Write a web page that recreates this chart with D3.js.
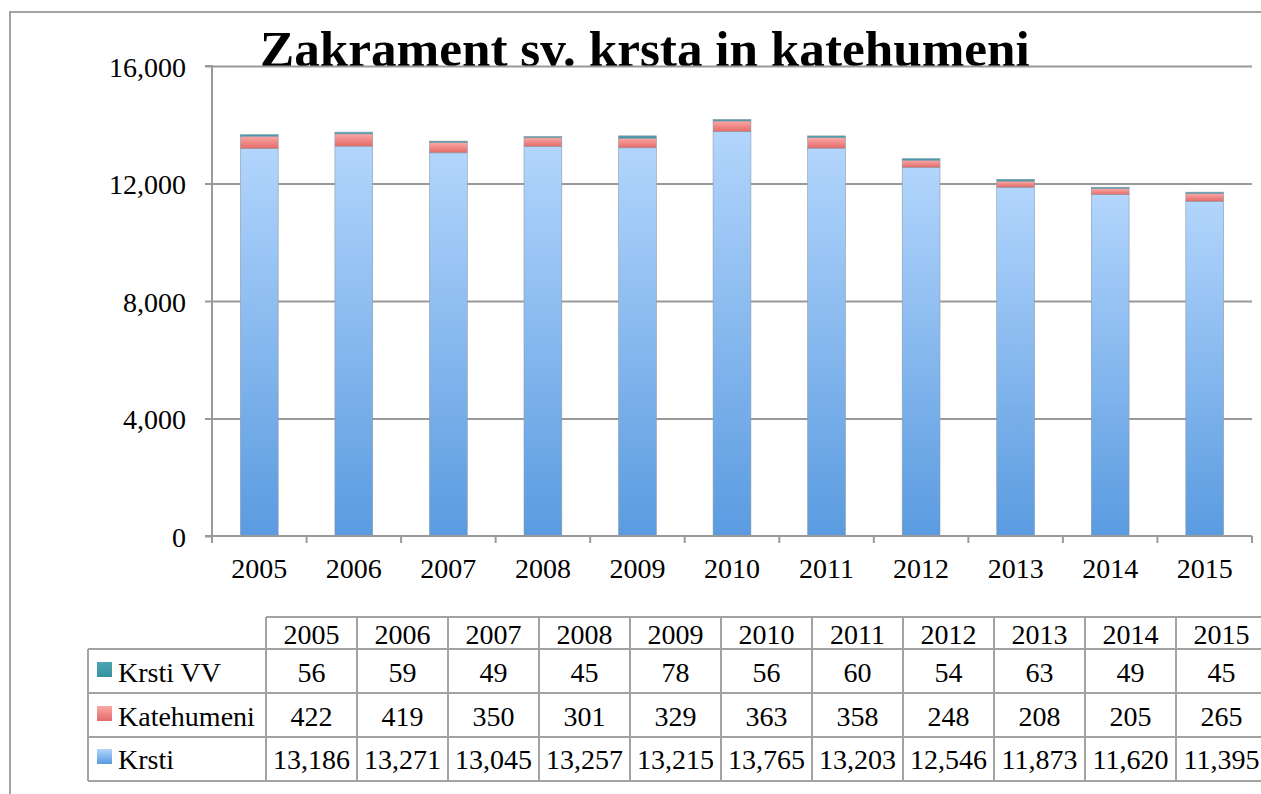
<!DOCTYPE html>
<html><head><meta charset="utf-8">
<script src="https://cdn.jsdelivr.net/npm/d3@7"></script>
<style>
html,body{margin:0;padding:0;background:#fff;overflow:hidden}
text{font-family:"Liberation Serif","DejaVu Serif",serif;fill:#000}
</style></head>
<body>
<svg id="c" width="1261" height="794"></svg>
<script>
const title = "Zakrament sv. krsta in katehumeni";
const years = ["2005","2006","2007","2008","2009","2010","2011","2012","2013","2014","2015"];
const krstiVV = [56,59,49,45,78,56,60,54,63,49,45];
const katehumeni = [422,419,350,301,329,363,358,248,208,205,265];
const krsti = [13186,13271,13045,13257,13215,13765,13203,12546,11873,11620,11395];
const yTicks = [0,4000,8000,12000,16000];
const seriesNames = ["Krsti VV","Katehumeni","Krsti"];

(function(){
const FS = 28;
const svg = d3.select("#c");
const defs = svg.append("defs");
function grad(id, c1, c2){
  const g = defs.append("linearGradient").attr("id",id).attr("x1",0).attr("y1",0).attr("x2",0).attr("y2",1);
  g.append("stop").attr("offset","0%").attr("stop-color",c1);
  g.append("stop").attr("offset","100%").attr("stop-color",c2);
}
grad("gBlue","#b2d5fc","#5a9be0");
grad("gRed","#fba8a6","#e36a68");
grad("gTeal","#4aa5b5","#35909f");
defs.append("clipPath").attr("id","titleClip").append("rect").attr("x",0).attr("y",0).attr("width",1261).attr("height",67);
const fills = {"Krsti":"url(#gBlue)","Katehumeni":"url(#gRed)","Krsti VV":"url(#gTeal)"};

svg.append("rect").attr("x",10).attr("y",12).attr("width",1400).attr("height",1000)
  .attr("fill","none").attr("stroke","#a3a3a3").attr("stroke-width",2);

const pL=212, pR=1252, pT=66, pB=536;
const x = d3.scaleBand().domain(years).range([pL,pR]).paddingInner(0.6).paddingOuter(0.3);
const xb = d3.scaleBand().domain(years).range([pL,pR]);
const y = d3.scaleLinear().domain([0,16000]).range([pB,pT]);

const t = svg.append("text").attr("x",260).attr("y",65.5).attr("font-weight","bold")
  .attr("clip-path","url(#titleClip)")
  .attr("font-size",44).text(title);
const w = t.node().getComputedTextLength();
t.attr("font-size",44*770/w);

svg.append("g").selectAll("line").data(yTicks.filter(d=>d>0)).join("line")
  .attr("x1",pL).attr("x2",pR).attr("y1",d=>y(d)+0.5).attr("y2",d=>y(d)+0.5)
  .attr("stroke","#999").attr("stroke-width",2);

const rows = years.map((yr,i)=>({year:yr,"Krsti":krsti[i],"Katehumeni":katehumeni[i],"Krsti VV":krstiVV[i]}));
const stack = d3.stack().keys(["Krsti","Katehumeni","Krsti VV"])(rows);
svg.append("g").selectAll("g").data(stack).join("g")
  .attr("fill",d=>fills[d.key])
  .selectAll("rect").data(d=>d).join("rect")
  .attr("x",d=>x(d.data.year)).attr("width",x.bandwidth())
  .attr("y",d=>y(d[1])).attr("height",d=>y(d[0])-y(d[1]))
  .attr("stroke","#8e9aa8").attr("stroke-width",0.6);

const yAxis = svg.append("g").attr("transform",`translate(${pL},0)`)
  .call(d3.axisLeft(y).tickValues(yTicks).tickFormat(d3.format(",")).tickSize(7).tickPadding(19));
yAxis.select(".domain").attr("stroke","#999").attr("stroke-width",2).attr("d",`M-7,${pT}H0V${pB}`);
yAxis.selectAll(".tick line").attr("stroke","#999").attr("stroke-width",2);
yAxis.selectAll(".tick text").attr("font-size",FS).attr("font-family","Liberation Serif").attr("dy","0.36em");

const xg = svg.append("g").attr("transform",`translate(0,${pB})`);
xg.append("line").attr("x1",pL-7).attr("x2",pR).attr("stroke","#999").attr("stroke-width",2);
xg.selectAll("line.t").data(years.concat(["end"])).join("line").attr("class","t")
  .attr("x1",(d,i)=>i<years.length?xb(d):pR).attr("x2",(d,i)=>i<years.length?xb(d):pR)
  .attr("y1",0).attr("y2",7).attr("stroke","#999").attr("stroke-width",2);
xg.selectAll("text").data(years).join("text")
  .attr("x",d=>xb(d)+xb.bandwidth()/2).attr("y",42)
  .attr("text-anchor","middle").attr("font-size",FS).text(d=>d);

const tLeft=88, cLeft=266, cw=91;
const rowY=[617,649,693,737,781];
const tb = svg.append("g");
const grid = "#a3a3a3";
tb.append("line").attr("x1",cLeft).attr("x2",cLeft+cw*years.length).attr("y1",rowY[0]).attr("y2",rowY[0]).attr("stroke",grid).attr("stroke-width",2);
for(let r=1;r<rowY.length;r++){
  tb.append("line").attr("x1",tLeft).attr("x2",cLeft+cw*years.length).attr("y1",rowY[r]).attr("y2",rowY[r]).attr("stroke",grid).attr("stroke-width",2);
}
tb.append("line").attr("x1",tLeft).attr("x2",tLeft).attr("y1",rowY[1]).attr("y2",rowY[4]).attr("stroke",grid).attr("stroke-width",2);
for(let c=0;c<=years.length;c++){
  tb.append("line").attr("x1",cLeft+c*cw).attr("x2",cLeft+c*cw).attr("y1",rowY[0]).attr("y2",rowY[4]).attr("stroke",grid).attr("stroke-width",2);
}
const fmt = d3.format(",");
tb.selectAll("text.h").data(years).join("text").attr("class","h")
  .attr("x",(d,i)=>cLeft+cw*i+cw/2).attr("y",644).attr("text-anchor","middle").attr("font-size",FS).text(d=>d);
const tableSeries = [krstiVV,katehumeni,krsti];
const baselines=[682,726,769];
tableSeries.forEach((arr,r)=>{
  tb.append("g").selectAll("text").data(arr).join("text")
    .attr("x",(d,i)=>cLeft+cw*i+cw/2).attr("y",baselines[r]).attr("text-anchor","middle")
    .attr("font-size",FS).text(d=>fmt(d));
  tb.append("rect").attr("x",97).attr("y",baselines[r]-20).attr("width",15).attr("height",15)
    .attr("fill",fills[seriesNames[r]]);
  tb.append("text").attr("x",118).attr("y",baselines[r]).attr("font-size",FS).text(seriesNames[r]);
});
})();
</script>
</body></html>
